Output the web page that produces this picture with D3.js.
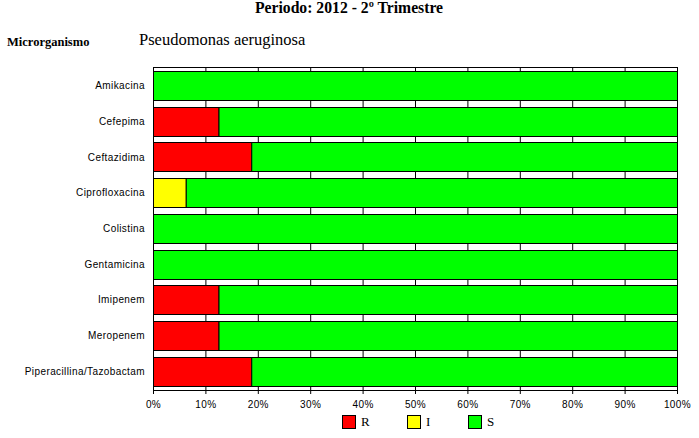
<!DOCTYPE html>
<html><head><meta charset="utf-8">
<script src="https://cdn.jsdelivr.net/npm/d3@7"></script>
<style>
body{margin:0;background:#fff;}
svg{display:block;}
.lab{font-family:"Liberation Sans",Arial,sans-serif;font-size:10px;letter-spacing:0.4px;fill:#000;}
.serif{font-family:"Liberation Serif","Times New Roman",serif;fill:#000;}
</style></head>
<body>
<svg id="c" width="699" height="438"></svg>
<script>
const categories = ["Amikacina","Cefepima","Ceftazidima","Ciprofloxacina","Colistina","Gentamicina","Imipenem","Meropenem","Piperacillina/Tazobactam"];
const valuesR = [0, 12.5, 18.75, 0, 0, 0, 12.5, 12.5, 18.75];
const valuesI = [0, 0, 0, 6.25, 0, 0, 0, 0, 0];
const valuesS = [100, 87.5, 81.25, 93.75, 100, 100, 87.5, 87.5, 81.25];
const seriesNames = ["R","I","S"];
const seriesColors = ["#ff0000","#ffff00","#00ff00"];
const tickValues = [0,10,20,30,40,50,60,70,80,90,100];

const svg = d3.select("#c");
const L = 153, R = 677, T = 67, B = 390;
const x = d3.scaleLinear().domain([0,100]).range([L,R]);
const y = d3.scaleBand().domain(categories).range([T,B]).paddingInner(0.18).paddingOuter(0.11);

// titles
svg.append("text").attr("class","serif").attr("x",349).attr("y",13).attr("text-anchor","middle")
  .attr("font-size","15.7px").attr("font-weight","bold").text("Periodo: 2012 - 2º Trimestre");
svg.append("text").attr("class","serif").attr("x",7).attr("y",46)
  .attr("font-size","12.5px").attr("font-weight","bold").text("Microrganismo");
svg.append("text").attr("class","serif").attr("x",139).attr("y",45)
  .attr("font-size","16.5px").text("Pseudomonas aeruginosa");

// grid
svg.append("g").selectAll("line").data(tickValues).join("line")
  .attr("x1",d=>x(d)+0.5).attr("x2",d=>x(d)+0.5).attr("y1",T).attr("y2",B)
  .attr("stroke","#000").attr("stroke-width",1);
svg.append("line").attr("x1",L).attr("x2",R+1).attr("y1",T+0.5).attr("y2",T+0.5).attr("stroke","#000");

// stacked bars
const rows = categories.map((c,i)=>({cat:c, R:valuesR[i], I:valuesI[i], S:valuesS[i]}));
const stack = d3.stack().keys(seriesNames)(rows);
const g = svg.append("g");
stack.forEach((layer,k)=>{
  g.selectAll(null).data(layer.filter(d=>d[1]-d[0]>0)).join("rect")
    .attr("x",d=>x(d[0])+0.5).attr("width",d=>x(d[1])-x(d[0]))
    .attr("y",d=>Math.round(y(d.data.cat))+0.5).attr("height",Math.round(y.bandwidth()))
    .attr("fill",seriesColors[k]).attr("stroke","#000").attr("stroke-width",1);
});

// x axis
const ax = svg.append("g").attr("transform",`translate(0,${B})`)
  .call(d3.axisBottom(x).tickValues(tickValues).tickFormat(d=>d+"%").tickSize(4).tickSizeOuter(0));
ax.select(".domain").attr("stroke","#000");
ax.selectAll("text").attr("class","lab").attr("dy","1.1em").attr("font-size",null).attr("font-family",null);
ax.selectAll("line").attr("stroke","#000");

// y labels
svg.append("g").selectAll("text").data(categories).join("text").attr("class","lab")
  .attr("x",L-8).attr("y",d=>y(d)+y.bandwidth()/2).attr("dy","0.35em").attr("text-anchor","end").text(d=>d);
svg.append("line").attr("x1",L+0.5).attr("x2",L+0.5).attr("y1",T).attr("y2",B).attr("stroke","#000");

// legend
const legX = [342,407,468];
const lg = svg.append("g");
seriesNames.forEach((n,i)=>{
  lg.append("rect").attr("x",legX[i]+0.5).attr("y",415.5).attr("width",13).attr("height",13)
    .attr("fill",seriesColors[i]).attr("stroke","#000");
  lg.append("text").attr("class","serif").attr("font-size","13px").attr("x",legX[i]+19).attr("y",426).text(n);
});
</script>
</body></html>
